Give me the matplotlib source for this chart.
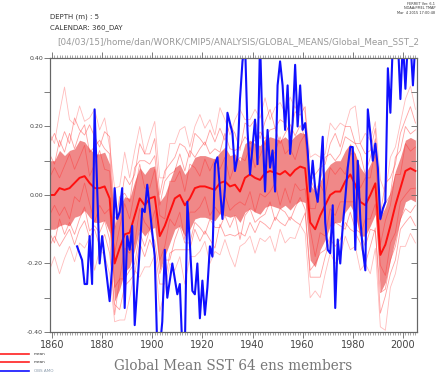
#coding:utf-8
import numpy as np
import matplotlib
matplotlib.use('Agg')
import matplotlib.pyplot as plt
from matplotlib.lines import Line2D

# ---- ensemble (2-yearly) ----
years = list(range(1859, 2006, 2))

ens_mean = [0.00, 0.00, 0.02, 0.015, 0.02, 0.035, 0.05, 0.055, 0.035, 0.02,
            0.02, 0.025, -0.01, -0.20, -0.155, -0.115, -0.11, -0.06, -0.01, -0.03,
            -0.01, -0.005, -0.12, -0.09, -0.05, -0.01, 0.0, -0.03, -0.01, 0.02,
            0.025, 0.025, 0.02, 0.015, 0.035, 0.04, 0.025, 0.03, 0.01, 0.05,
            0.06, 0.05, 0.044, 0.064, 0.07, 0.065, 0.06, 0.07, 0.056, 0.073,
            0.083, 0.078, -0.08, -0.10, -0.06, -0.03, 0.0, 0.01, 0.01, 0.04,
            0.06, 0.03, -0.02, -0.03, 0.0, 0.034, -0.175, -0.145, -0.09, -0.03,
            0.02, 0.07, 0.078, 0.07]

# ensemble spread (hundredths)
ens_spread = [10, 10, 11, 10, 11, 10, 11, 10, 10, 10,
              10, 10, 10, 11, 12, 11, 10, 10, 9, 9,
              9, 9, 10, 9, 9, 9, 9, 9, 9, 9,
              9, 9, 9, 9, 9, 10, 9, 9, 9, 10,
              10, 10, 10, 10, 10, 10, 10, 10, 10, 10,
              10, 10, 11, 11, 10, 10, 9, 9, 9, 9,
              9, 9, 10, 9, 9, 9, 11, 11, 10, 10,
              9, 9, 9, 9]

# a few members, as departures from the ensemble mean (hundredths)
member_dev = {
    'm1': [12, 9, 14, 11, 16, 10, 13, 15, 9, 12,
           14, 11, 13, 10, 15, 12, 9, 14, 11, 13,
           10, 12, 9, 13, 11, 8, 12, 10, 14, 9,
           11, 13, 10, 12, 9, 14, 11, 10, 13, 12,
           9, 11, 14, 10, 12, 13, 9, 11, 15, 10,
           12, 9, 13, 11, 10, 14, 12, 9, 11, 13,
           10, 12, 14, 9, 11, 13, 10, 12, 9, 14,
           11, 13, 10, 12],
    'm2': [18, 15, 22, 30, 20, 17, 21, 16, 19, 23,
           17, 20, 15, 22, 18, 24, 16, 19, 21, 15,
           18, 22, 17, 14, 20, 16, 19, 23, 15, 18,
           21, 17, 20, 16, 22, 18, 15, 19, 24, 17,
           16, 20, 18, 22, 15, 19, 21, 17, 23, 18,
           20, 16, 19, 22, 17, 15, 21, 18, 20, 16,
           19, 23, 17, 21, 16, 18, 22, 15, 20, 17,
           19, 21, 24, 18],
    'm3': [-11, -14, -9, -13, -10, -15, -12, -9, -14, -11,
           -13, -10, -12, -15, -9, -13, -11, -14, -10, -12,
           -9, -13, -11, -10, -14, -12, -9, -11, -13, -10,
           -12, -14, -9, -11, -13, -10, -12, -9, -14, -11,
           -10, -13, -11, -12, -9, -14, -10, -12, -13, -11,
           -9, -12, -14, -10, -11, -13, -12, -9, -10, -14,
           -11, -13, -9, -12, -10, -14, -11, -13, -10, -12,
           -9, -11, -13, -10],
    'm4': [-22, -18, -25, -20, -17, -23, -19, -21, -16, -24,
           -18, -20, -22, -17, -21, -25, -19, -16, -23, -18,
           -20, -17, -22, -19, -15, -21, -18, -23, -17, -20,
           -19, -16, -22, -18, -21, -17, -20, -24, -16, -19,
           -18, -22, -17, -20, -19, -23, -16, -21, -18, -20,
           -17, -19, -22, -18, -24, -20, -17, -21, -19, -16,
           -22, -18, -20, -17, -23, -19, -21, -25, -18, -20,
           -17, -22, -19, -21],
    'm5': [5, 8, 3, 7, 10, 4, 6, 9, 2, 7,
           11, 5, 8, 3, 6, 9, 4, 7, 10, 5,
           3, 8, 6, 2, 9, 5, 7, 4, 10, 6,
           3, 8, 5, 9, 4, 7, 2, 6, 10, 5,
           8, 3, 7, 9, 4, 6, 11, 5, 8, 3,
           7, 10, 4, 6, 9, 3, 8, 5, 7, 2,
           6, 9, 4, 8, 5, 10, 3, 7, 6, 9,
           4, 8, 5, 7],
    'm6': [-6, -3, -8, -5, -9, -4, -7, -2, -6, -10,
           -5, -8, -3, -7, -9, -4, -6, -8, -3, -5,
           -9, -4, -7, -6, -2, -8, -5, -10, -4, -7,
           -6, -3, -8, -5, -9, -4, -7, -6, -3, -8,
           -5, -10, -4, -7, -6, -3, -9, -5, -8, -4,
           -7, -6, -2, -8, -5, -9, -4, -7, -3, -6,
           -8, -5, -10, -4, -7, -6, -3, -9, -5, -8,
           -4, -7, -6, -5],
    'm7': [15, 18, 12, 17, 13, 19, 14, 12, 17, 15,
           12, 16, 18, 13, 11, 17, 14, 12, 16, 15,
           13, 17, 12, 16, 14, 12, 15, 17, 12, 16,
           14, 12, 17, 14, 16, 12, 18, 15, 12, 16,
           14, 17, 12, 15, 18, 13, 16, 14, 12, 17,
           15, 18, 12, 16, 14, 12, 15, 17, 13, 16,
           14, 12, 17, 15, 13, 16, 12, 18, 14, 12,
           16, 15, 18, 14],
    'm8': [-15, -12, -17, -14, -12, -18, -15, -13, -16, -12,
           -17, -14, -16, -12, -18, -15, -14, -17, -13, -15,
           -12, -16, -14, -17, -12, -15, -16, -13, -15, -12,
           -16, -13, -15, -17, -12, -16, -14, -15, -12, -17,
           -14, -16, -12, -15, -17, -13, -14, -16, -12, -15,
           -17, -13, -16, -14, -18, -15, -13, -16, -14, -12,
           -16, -14, -12, -17, -15, -13, -17, -15, -14, -16,
           -12, -15, -14, -16],
}

# ---- observed AMO ----
obs_years = [1870, 1872, 1873, 1874, 1875, 1876, 1877, 1879, 1880, 1883,
             1884, 1885, 1886, 1887, 1888, 1889, 1890, 1891, 1892, 1893,
             1895, 1896, 1897, 1898, 1899, 1901, 1902, 1903, 1904, 1905,
             1906, 1907, 1908, 1910, 1911, 1912, 1913, 1914, 1915, 1916,
             1917, 1918, 1919, 1920, 1921, 1922, 1923, 1924, 1925, 1926,
             1928, 1929, 1930, 1932, 1933, 1934, 1935, 1936, 1937, 1938,
             1939, 1940, 1941, 1942, 1943, 1944, 1945, 1946, 1947, 1948,
             1949, 1950, 1951, 1952, 1953, 1954, 1955, 1956, 1957, 1958,
             1959, 1960, 1961, 1962, 1963, 1964, 1965, 1966, 1967, 1968,
             1969, 1970, 1971, 1972, 1973, 1974, 1975, 1976, 1977, 1978,
             1979, 1980, 1981, 1982, 1983, 1984, 1985, 1986, 1987, 1988,
             1989, 1990, 1991, 1992, 1993, 1994, 1995, 1996, 1997, 1998,
             1999, 2000, 2001, 2002, 2003, 2004, 2005]
obs_amo = [-0.15, -0.19, -0.26, -0.26, -0.12, -0.26, 0.25, -0.20, -0.12, -0.31,
           -0.21, 0.02, -0.07, -0.05, 0.02, -0.33, -0.12, -0.16, -0.09, -0.38,
           -0.16, -0.04, -0.05, 0.03, -0.04, -0.18, -0.45, -0.45, -0.37, -0.16,
           -0.30, -0.25, -0.20, -0.29, -0.26, -0.45, -0.45, -0.02, -0.14, -0.28,
           -0.29, -0.20, -0.36, -0.25, -0.35, -0.27, -0.15, -0.18, 0.09, 0.11,
           -0.07, 0.02, 0.24, 0.18, 0.07, 0.11, 0.28, 0.39, 0.45, 0.19,
           0.06, 0.14, 0.22, 0.09, 0.45, 0.19, 0.01, 0.19, 0.08, 0.13,
           0.01, 0.32, 0.39, 0.32, 0.19, 0.32, 0.12, 0.21, 0.38, 0.20,
           0.32, 0.19, 0.21, 0.13, 0.01, 0.10, 0.02, -0.02, 0.06, 0.17,
           -0.08, -0.16, -0.17, -0.03, -0.33, -0.13, -0.20, -0.09, -0.01, 0.08,
           0.14, 0.14, -0.16, 0.10, -0.07, -0.16, -0.22, 0.25, 0.18, 0.10,
           0.15, 0.08, -0.07, -0.04, -0.02, 0.37, 0.24, 0.45, 0.45, 0.45,
           0.28, 0.45, 0.31, 0.45, 0.45, 0.32, 0.45]

y_ticks = [-0.4, -0.3, -0.2, -0.1, 0.0, 0.1, 0.2, 0.3, 0.4]
x_labels = [1860, 1880, 1900, 1920, 1940, 1960, 1980, 2000]


def run_main():
    grey = '#666666'
    fig = plt.figure(figsize=(4.4, 3.75), dpi=100)
    ax = fig.add_axes([0.1136, 0.1147, 0.834, 0.7307])

    yr = np.array(years)
    mn = np.array(ens_mean)
    sd = np.array(ens_spread) / 100.0

    # spread band
    ax.fill_between(yr, mn - sd, mn + sd, color='#ef7b7b', alpha=0.9,
                    lw=0, zorder=2)

    # members (faint outer ones behind, closer ones over the band)
    for key in member_dev:
        dev = np.array(member_dev[key])
        outer = np.abs(dev).mean() > 16
        ax.plot(yr, mn + dev / 100.0,
                color='#ff9090' if outer else '#ff3030',
                lw=0.6, alpha=0.6 if outer else 0.45,
                zorder=1 if outer else 2.5)

    # mean
    ax.plot(yr, mn, color='#ff1010', lw=1.4, zorder=3)

    # obs
    ax.plot(obs_years, obs_amo, color='#1010ff', lw=1.5, zorder=4)

    ax.set_xlim(1859.2, 2005.6)
    ax.set_ylim(-0.4, 0.4)

    ax.set_xticks(x_labels)
    ax.set_xticks(range(1860, 2006), minor=True)
    ax.set_yticks(y_ticks)
    ax.set_yticklabels(['%.2f' % v if i % 2 == 0 else '' for i, v in enumerate(y_ticks)])

    ax.tick_params(axis='x', which='both', top=True, direction='out',
                   colors=grey, labelsize=7, pad=2)
    ax.tick_params(axis='x', which='major', length=4, width=0.6)
    ax.tick_params(axis='x', which='minor', length=2, width=0.4)
    ax.tick_params(axis='y', which='major', direction='out', length=4,
                   width=0.6, colors=grey, labelsize=4.5, pad=1)
    for lab in ax.get_xticklabels() + ax.get_yticklabels():
        lab.set_color('#444444')

    ax2 = ax.twinx()
    ax2.set_ylim(-0.4, 0.4)
    ax2.set_yticks(y_ticks)
    ax2.set_yticklabels([])
    ax2.tick_params(axis='y', direction='in', length=4, width=0.6, colors=grey)

    for a in (ax, ax2):
        for s in a.spines.values():
            s.set_color(grey)
            s.set_linewidth(0.8)

    # header text
    fig.text(50 / 440, 1 - 17 / 375, 'DEPTH (m) : 5', fontsize=5,
             color='#333333', va='center')
    fig.text(50 / 440, 1 - 28 / 375, 'CALENDAR: 360_DAY', fontsize=5,
             color='#333333', va='center')
    fig.text(57 / 440, 1 - 42 / 375,
             '[04/03/15]/home/dan/WORK/CMIP5/ANALYSIS/GLOBAL_MEANS/Global_Mean_SST_2',
             fontsize=6.3, color='#999999', va='center')
    fig.text(435 / 440, 1 - 2 / 375,
             'FERRET Ver. 6.1\nNOAA/PMEL TMAP\nMar  4 2015 17:00:48',
             fontsize=2.5, color='#333333', ha='right', va='top',
             linespacing=1.1)

    # title
    fig.text(233 / 440, 1 - 366 / 375, 'Global Mean SST 64 ens members',
             fontsize=9.8, family='DejaVu Serif', color='#777777',
             ha='center', va='center')

    # legend keys
    keys = [(354, '#ff2020', 'mean', '#333333'),
            (362, '#ff2020', 'mean', '#333333'),
            (371, '#1010ff', 'OBS AMO', '#8899aa')]
    for ypix, col, txt, tcol in keys:
        yf = 1 - ypix / 375
        fig.add_artist(Line2D([0.0, 29 / 440], [yf, yf], color=col, lw=1.2))
        fig.text(34 / 440, yf, txt, fontsize=3, color=tcol, va='center')

    fig.savefig('out.png', dpi=100)


if __name__ == '__main__':
    run_main()
